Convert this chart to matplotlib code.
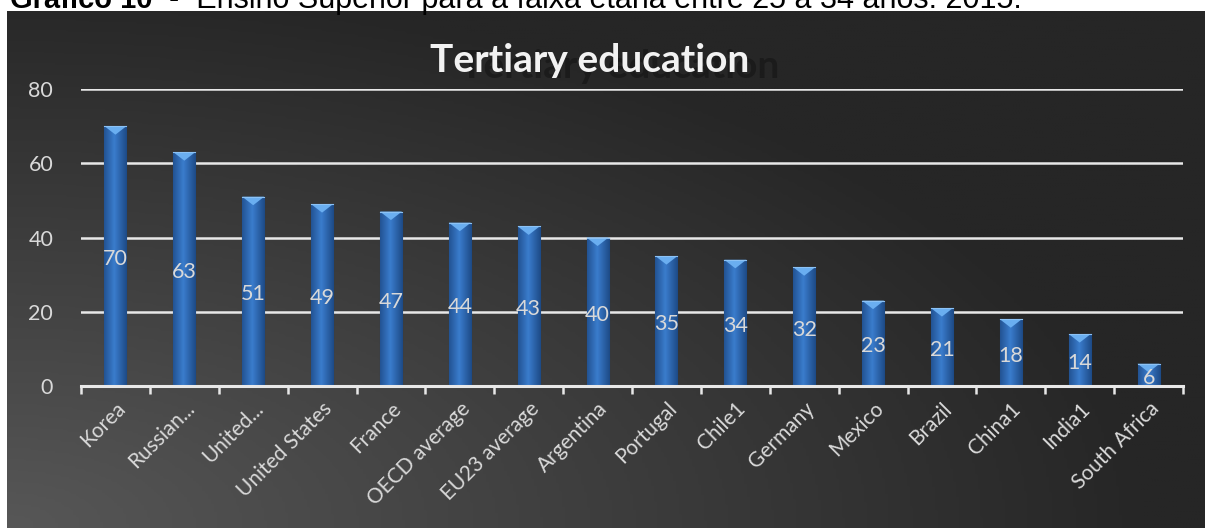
import numpy as np
import matplotlib.pyplot as plt
from matplotlib.colors import LinearSegmentedColormap

# Share of 25-34 year olds with tertiary education, 2015
countries = ['Korea', 'Russian...', 'United...', 'United States', 'France',
             'OECD average', 'EU23 average', 'Argentina', 'Portugal', 'Chile1',
             'Germany', 'Mexico', 'Brazil', 'China1', 'India1', 'South Africa']
values = [70, 63, 51, 49, 47, 44, 43, 40, 35, 34, 32, 23, 21, 18, 14, 6]
y_ticks = [0, 20, 40, 60, 80]

caption_bold = 'Gráfico 10'
caption_rest = '  -  Ensino Superior para a faixa etária entre 25 a 34 anos. 2015.'
title = 'Tertiary education'

plt.rcParams['font.family'] = ['Lato', 'DejaVu Sans']
label_col = '#d9d9d9'

fig = plt.figure(figsize=(12.05, 5.28), dpi=100)
fig.patch.set_facecolor('white')

# dark panel with a soft lighter corner at the lower left
bg = fig.add_axes([7 / 1205, 0, 1 - 7 / 1205, 1 - 11 / 528])
bg.set_axis_off()
yy, xx = np.mgrid[0:1:200j, 0:1:400j]
dist = np.sqrt((xx * 1.05) ** 2 + ((1 - yy) * 0.95) ** 2)
shade = np.clip(1 - dist / 1.0, 0, 1)
cmap_bg = LinearSegmentedColormap.from_list('bg', ['#262626', '#575757'])
bg.imshow(shade, cmap=cmap_bg, aspect='auto', origin='upper', extent=[0, 1, 0, 1])
bg.set_xlim(0, 1)
bg.set_ylim(0, 1)

ax = fig.add_axes([81 / 1205, (528 - 386) / 528, (1183 - 81) / 1205, (386 - 89) / 528])
ax.patch.set_alpha(0)
x = np.arange(len(countries))
w = 0.32

for t in y_ticks[1:]:
    ax.axhline(t, color='#e8e8e8', lw=1.8, zorder=1)

bars = ax.bar(x, values, width=w, color='#2c68b6', edgecolor='#173d70',
              linewidth=0.8, zorder=2)

# horizontal shading inside each bar
grad = np.linspace(0, 1, 64)
grad = 1 - np.abs(grad - 0.45) * 2
cmap_bar = LinearSegmentedColormap.from_list('bar', ['#1d4a86', '#3a7ccc'])
for rect, xi, v in zip(bars, x, values):
    im = ax.imshow(grad[np.newaxis, :], cmap=cmap_bar, aspect='auto',
                   extent=[xi - w / 2, xi + w / 2, 0, v], zorder=3)
    im.set_clip_path(rect)
    # light pyramid cap at the top
    ax.fill([xi - w / 2, xi + w / 2, xi], [v, v, v - 2.3],
            color='#6aaef0', zorder=4, lw=0)
    ax.plot([xi - w / 2, xi + w / 2], [v, v], color='#8cc2f5', lw=0.8, zorder=4)
    ax.text(xi, v / 2 - 0.8, str(v), ha='center', va='center', fontsize=15.5,
            color=label_col, zorder=5)
ax.set_xlim(-0.5, len(countries) - 0.5)
ax.set_ylim(0, 80)

for s in ['top', 'right', 'left']:
    ax.spines[s].set_visible(False)
ax.spines['bottom'].set_color('#e8e8e8')
ax.spines['bottom'].set_linewidth(2.2)
ax.spines['bottom'].set_zorder(6)

ax.set_yticks(y_ticks)
ax.set_yticklabels([str(t) for t in y_ticks], fontsize=15.5, color=label_col)
ax.tick_params(axis='y', length=0, pad=20)

ax.set_xticks(np.arange(len(countries) + 1) - 0.5)
ax.set_xticklabels([])
ax.set_xticks(x, minor=True)
ax.set_xticklabels(countries, minor=True, rotation=45, ha='right',
                   rotation_mode='anchor', fontsize=15, color=label_col)
ax.tick_params(axis='x', which='major', length=6, width=1.8, color='#e8e8e8',
               direction='out')
ax.tick_params(axis='x', which='minor', length=0, pad=9)

# title with a soft offset shadow
fig.text(620 / 1205, 1 - 66 / 528, title, ha='center', va='center',
         fontsize=28, fontweight='bold', color='#141414', alpha=0.6)
fig.text(590 / 1205, 1 - 61 / 528, title, ha='center', va='center',
         fontsize=28, fontweight='bold', color='#f2f2f2')

# caption sitting above the panel
cap = fig.text(10 / 1205, 1 - 8 / 528, caption_bold, ha='left', va='baseline',
               fontsize=21, fontweight='bold', color='black',
               family=['Liberation Sans', 'DejaVu Sans'])
fig.canvas.draw()
bb = cap.get_window_extent()
fig.text(bb.x1 / fig.bbox.width, 1 - 8 / 528, caption_rest, ha='left',
         va='baseline', fontsize=22, color='black',
         family=['Liberation Sans', 'DejaVu Sans'])

fig.savefig('out.png', dpi=100, facecolor=fig.get_facecolor())
